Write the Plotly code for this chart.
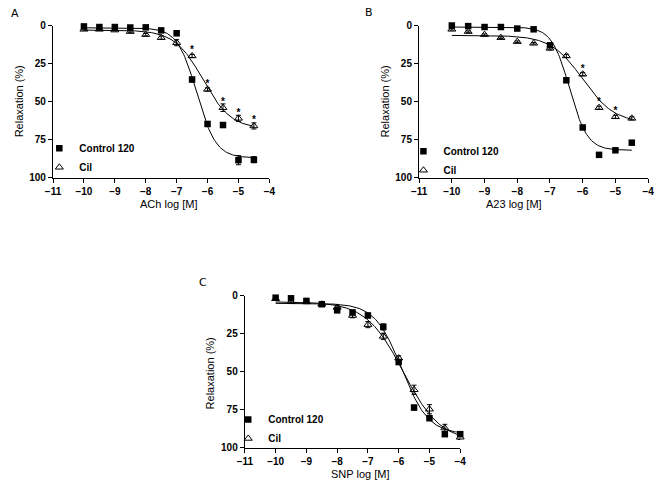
import numpy as np
import plotly.graph_objects as go

# ---------------- data ----------------
log_conc_ab = [-10, -9.5, -9, -8.5, -8, -7.5, -7, -6.5, -6, -5.5, -5, -4.5]
log_conc_c = [-10, -9.5, -9, -8.5, -8, -7.5, -7, -6.5, -6, -5.5, -5, -4.5, -4]

# Panel A: ACh
ach_control = [0.6, 1.0, 1.0, 1.3, 1.2, 3.2, 5.1, 35.5, 64.7, 65.4, 88.5, 88.2]
ach_control_err = [0.5, 0.5, 0.5, 0.5, 0.5, 0.8, 1.0, 1.5, 1.5, 1.5, 3.0, 2.0]
ach_cil = [2.5, 2.5, 3.0, 4.0, 6.0, 8.0, 11.3, 20.0, 42.0, 54.0, 61.0, 66.0]
ach_cil_err = [0.5, 0.5, 0.5, 0.5, 0.8, 1.0, 2.0, 1.0, 1.0, 2.5, 2.0, 2.0]
ach_star = [False, False, False, False, False, False, False, True, True, True, True, True]

# Panel B: A23
a23_control = [0.0, 0.4, 1.0, 1.0, 2.0, 2.5, 13.0, 36.0, 67.0, 85.0, 82.0, 77.0]
a23_control_err = [0.5, 0.5, 0.5, 0.5, 0.5, 0.5, 1.0, 1.0, 1.0, 1.0, 1.0, 1.0]
a23_cil = [2.5, 4.0, 6.0, 8.0, 10.6, 11.7, 15.0, 20.0, 32.0, 54.0, 60.0, 61.0]
a23_cil_err = [0.5, 0.5, 0.5, 0.5, 0.5, 0.5, 1.0, 1.0, 1.0, 1.0, 1.0, 1.0]
a23_star = [False, False, False, False, False, False, False, False, True, True, True, False]

# Panel C: SNP
snp_control = [1.3, 1.7, 3.4, 5.6, 9.6, 11.0, 13.0, 20.5, 43.6, 73.5, 80.5, 91.0, 91.0]
snp_control_err = [1.0, 1.0, 1.0, 1.0, 1.5, 1.5, 1.5, 2.0, 1.5, 1.5, 1.5, 1.5, 1.5]
snp_cil = [2.0, 4.0, 4.0, 5.6, 7.7, 13.0, 19.0, 26.7, 41.0, 61.8, 74.6, 87.0, 93.0]
snp_cil_err = [1.0, 1.0, 1.0, 1.0, 1.0, 1.5, 2.0, 2.0, 1.5, 3.0, 3.0, 2.5, 1.5]

# fitted sigmoid (4PL) parameters: bottom, top, logEC50, hill, x_start, x_end
fit_ach_control = [1.5, 87.0, -6.35, 1.4, -10, -4.5]
fit_ach_cil = [3.0, 68.0, -6.15, 0.95, -10, -4.5]
fit_a23_control = [1.0, 82.0, -6.4, 1.6, -10, -4.5]
fit_a23_cil = [6.5, 64.0, -6.0, 0.9, -10, -4.5]
fit_snp_control = [5.0, 91.0, -5.9, 1.0, -10, -4]
fit_snp_cil = [4.0, 96.0, -5.85, 0.72, -10, -4]

x_ticks = [-11, -10, -9, -8, -7, -6, -5, -4]
y_ticks = [0, 25, 50, 75, 100]
series_names = ["Control 120", "Cil"]
x_titles = ["ACh log [M]", "A23 log [M]", "SNP log [M]"]
y_title = "Relaxation (%)"
panel_letters = ["A", "B", "C"]

# ---------------- figure ----------------
FONT = "Liberation Sans, Arial, sans-serif"
W, H = 661, 489
fig = go.Figure()


def px_x(p):
    return p / W


def px_y(p):
    return 1 - p / H


def curve(params):
    b, t, ec, h, x0, x1 = params
    xs = np.linspace(x0, x1, 200)
    ys = b + (t - b) / (1 + 10 ** ((ec - xs) * h))
    return xs, ys


panels = [
    (log_conc_ab, ach_control, ach_control_err, ach_cil, ach_cil_err, ach_star,
     fit_ach_control, fit_ach_cil, "x", "y", "legend"),
    (log_conc_ab, a23_control, a23_control_err, a23_cil, a23_cil_err, a23_star,
     fit_a23_control, fit_a23_cil, "x2", "y2", "legend2"),
    (log_conc_c, snp_control, snp_control_err, snp_cil, snp_cil_err, None,
     fit_snp_control, fit_snp_cil, "x3", "y3", "legend3"),
]

for (xs, ctl, ctl_e, cil, cil_e, star, fc, fl, xa, ya, lg) in panels:
    for fp in (fc, fl):
        cx, cy = curve(fp)
        fig.add_trace(go.Scatter(x=cx, y=cy, mode="lines", line=dict(color="black", width=1),
                                 xaxis=xa, yaxis=ya, showlegend=False, hoverinfo="skip"))
    fig.add_trace(go.Scatter(
        x=xs, y=cil, mode="markers", name=series_names[1], legend=lg,
        marker=dict(symbol="triangle-up-open", size=7, color="black", line=dict(width=1, color="black")),
        error_y=dict(type="data", array=cil_e, color="black", thickness=1, width=2.5),
        xaxis=xa, yaxis=ya, cliponaxis=False, legendrank=2))
    fig.add_trace(go.Scatter(
        x=xs, y=ctl, mode="markers", name=series_names[0], legend=lg,
        marker=dict(symbol="square", size=6.5, color="black"),
        error_y=dict(type="data", array=ctl_e, color="black", thickness=1, width=2.5),
        xaxis=xa, yaxis=ya, cliponaxis=False, legendrank=1))
    if star is not None:
        sx = [x for x, s in zip(xs, star) if s]
        sy = [y for y, s in zip(cil, star) if s]
        fig.add_trace(go.Scatter(
            x=sx, y=sy, mode="text", text=["*"] * len(sx), textposition="top center",
            textfont=dict(family=FONT, size=10, color="black", weight=700),
            xaxis=xa, yaxis=ya, showlegend=False, cliponaxis=False, hoverinfo="skip"))

# axes
domains = [
    ((46, 267), (20, 176)),
    ((420, 654), (20, 176)),
    ((242, 462), (297, 453)),
]
for i, ((x0, x1), (y0, y1)) in enumerate(domains):
    sfx = "" if i == 0 else str(i + 1)
    common = dict(showline=True, linecolor="black", linewidth=1.3, ticks="outside",
                  ticklen=4, tickwidth=1.2, tickcolor="black", showgrid=False, zeroline=False,
                  tickfont=dict(family=FONT, size=10, color="black", weight=700))
    fig.update_layout(**{
        "xaxis" + sfx: dict(domain=[px_x(x0), px_x(x1)], range=[-11, -4], tickvals=x_ticks,
                            anchor="y" + sfx, **common),
        "yaxis" + sfx: dict(domain=[px_y(y1), px_y(y0)], range=[100, 0], tickvals=y_ticks,
                            anchor="x" + sfx, **common),
    })

# axis titles and panel letters
ann = []
xt_pos = [(164, 203), (517, 203), (360, 480)]
yt_pos = [(11, 98), (385, 98), (206, 377)]
letter_pos = [(7, 8), (369, 7), (199, 283)]
for i in range(3):
    ann.append(dict(x=px_x(xt_pos[i][0]), y=px_y(xt_pos[i][1]), xref="paper", yref="paper",
                    text=x_titles[i], showarrow=False, xanchor="center", yanchor="middle",
                    font=dict(family=FONT, size=11, color="black")))
    ann.append(dict(x=px_x(yt_pos[i][0]), y=px_y(yt_pos[i][1]), xref="paper", yref="paper",
                    text=y_title, showarrow=False, xanchor="center", yanchor="middle", textangle=-90,
                    font=dict(family=FONT, size=11, color="black")))
    ann.append(dict(x=px_x(letter_pos[i][0]), y=px_y(letter_pos[i][1]), xref="paper", yref="paper",
                    text=panel_letters[i], showarrow=False, xanchor="center", yanchor="middle",
                    font=dict(family="DejaVu Sans, sans-serif", size=11, color="black")))

legend_style = dict(bgcolor="rgba(0,0,0,0)", borderwidth=0, tracegroupgap=0,
                    font=dict(family=FONT, size=10, color="black", weight=700),
                    xanchor="left", yanchor="top", itemwidth=30)
fig.update_layout(
    width=W, height=H, margin=dict(l=0, r=0, t=0, b=0),
    paper_bgcolor="white", plot_bgcolor="white",
    annotations=ann,
    legend=dict(x=px_x(32), y=px_y(131), **legend_style),
    legend2=dict(x=px_x(404), y=px_y(134), **legend_style),
    legend3=dict(x=px_x(225), y=px_y(409), **legend_style),
    showlegend=True,
)

fig.write_html("out.html", config={"displayModeBar": False},
               post_script="document.body.style.margin='0';")
